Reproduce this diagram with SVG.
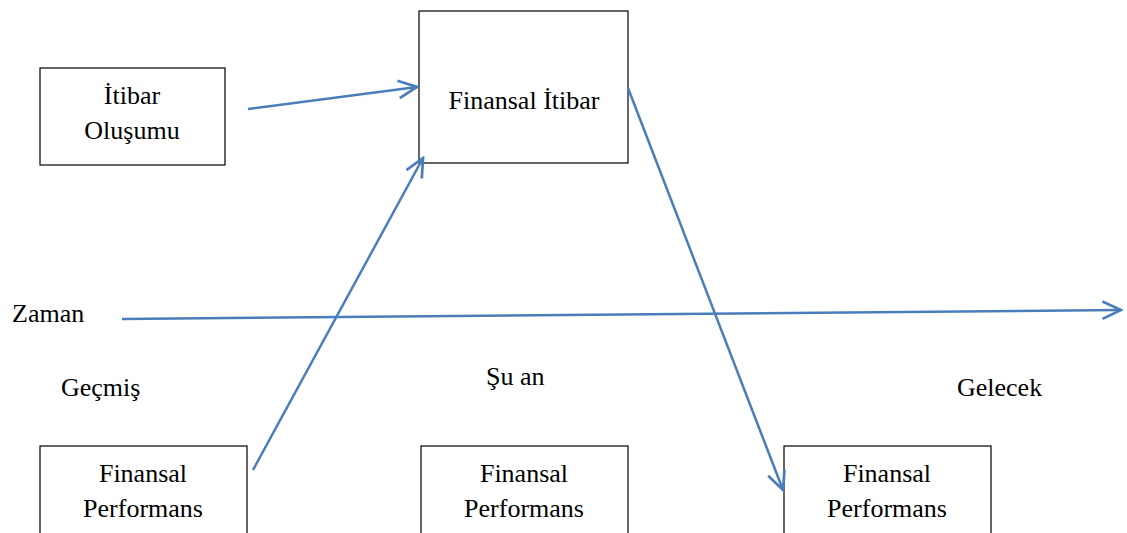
<svg xmlns="http://www.w3.org/2000/svg" width="1127" height="533" viewBox="0 0 1127 533">
<style>
.box{fill:#fff;stroke:#000;stroke-width:1.2}
.ln{stroke:#4a7ebb;stroke-width:2.5;fill:none;marker-end:url(#ah)}
</style>
<defs>
<marker id="ah" markerUnits="userSpaceOnUse" markerWidth="24" markerHeight="24" viewBox="-20 -10 22 20" refX="0" refY="0" orient="auto">
<path d="M-17,-8 L0,0 L-17,8" fill="none" stroke="#4a7ebb" stroke-width="2.5"/>
</marker>
</defs>
<rect width="1127" height="533" fill="#fff"/>
<g font-family="Liberation Serif, Times New Roman, serif" font-size="26" fill="#000">
<g id="itibar-olusumu">
<rect class="box" x="40" y="68" width="185" height="97"/>
<text text-anchor="middle" x="132" y="104">İtibar</text>
<text text-anchor="middle" x="132" y="139">Oluşumu</text>
</g>
<g id="finansal-itibar">
<rect class="box" x="419" y="11" width="209" height="152"/>
<text text-anchor="middle" x="524" y="109">Finansal İtibar</text>
</g>
<g id="fp-gecmis">
<rect class="box" x="40" y="446" width="207" height="100"/>
<text text-anchor="middle" x="143" y="482">Finansal</text>
<text text-anchor="middle" x="143" y="517">Performans</text>
</g>
<g id="fp-suan">
<rect class="box" x="421" y="446" width="207" height="100"/>
<text text-anchor="middle" x="524" y="482">Finansal</text>
<text text-anchor="middle" x="524" y="517">Performans</text>
</g>
<g id="fp-gelecek">
<rect class="box" x="784" y="446" width="207" height="100"/>
<text text-anchor="middle" x="887" y="482">Finansal</text>
<text text-anchor="middle" x="887" y="517">Performans</text>
</g>
<g id="labels">
<text x="12" y="322">Zaman</text>
<text x="61" y="396">Geçmiş</text>
<text x="486" y="385">Şu an</text>
<text x="957" y="396">Gelecek</text>
</g>
</g>
<g id="connectors">
<line class="ln" x1="248" y1="109" x2="417" y2="87"/>
<line class="ln" x1="253" y1="470" x2="423" y2="158"/>
<line class="ln" x1="628" y1="88" x2="783" y2="490"/>
<line class="ln" x1="122" y1="319" x2="1121" y2="310"/>
</g>
</svg>
